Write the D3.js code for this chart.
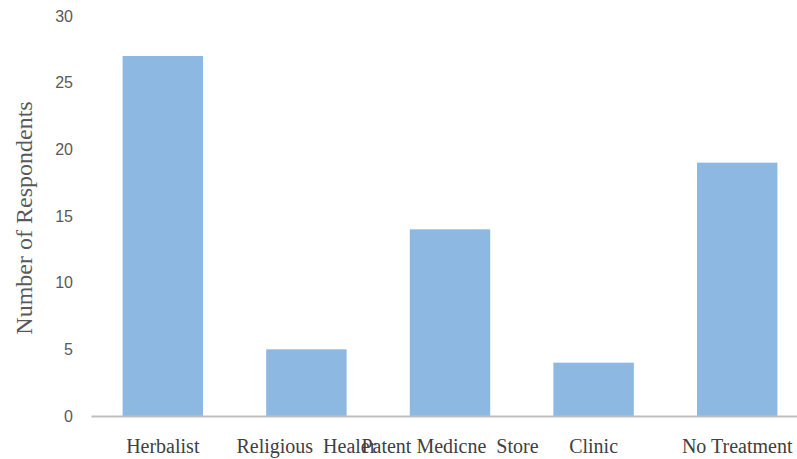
<!DOCTYPE html>
<html>
<head>
<meta charset="utf-8">
<script src="https://cdn.jsdelivr.net/npm/d3@7"></script>
<style>
  body { margin: 0; background: #fff; }
  text { white-space: pre; }
</style>
</head>
<body>
<svg id="chart"></svg>
<script>
// Chart data
var categories = ["Herbalist", "Religious  Healer", "Patent Medicne  Store", "Clinic", "No Treatment"];
var respondents = [27, 5, 14, 4, 19];
var yTicks = [0, 5, 10, 15, 20, 25, 30];

var width = 797, height = 459;

var svg = d3.select("#chart")
    .attr("width", width)
    .attr("height", height);

var xScale = d3.scaleBand()
    .domain(categories)
    .range([91, 809])
    .paddingInner(0.44)
    .paddingOuter(0.22);

var yScale = d3.scaleLinear()
    .domain([0, 30])
    .range([416, 16]);

// y axis tick labels only
svg.append("g")
    .attr("transform", "translate(73,0)")
    .call(d3.axisLeft(yScale).tickValues(yTicks).tickSize(0).tickPadding(0))
    .call(g => g.select(".domain").remove())
    .call(g => g.selectAll("text")
        .attr("fill", "#595959")
        .attr("font-family", "Liberation Sans, Arial, sans-serif")
        .attr("font-size", 16));

// bars
svg.selectAll(".bar")
    .data(categories)
    .enter().append("rect")
    .attr("class", "bar")
    .attr("x", d => xScale(d))
    .attr("width", xScale.bandwidth())
    .attr("y", (d, i) => yScale(respondents[i]))
    .attr("height", (d, i) => yScale(0) - yScale(respondents[i]))
    .attr("fill", "#8cb8e2");

// x axis line and labels
svg.append("g")
    .attr("transform", "translate(0," + yScale(0) + ")")
    .call(d3.axisBottom(xScale).tickSize(0).tickPadding(23))
    .call(g => g.select(".domain").attr("stroke", "#bfbfbf").attr("stroke-width", 2))
    .call(g => g.selectAll("text")
        .attr("fill", "#404040")
        .attr("font-family", "Liberation Serif, Times New Roman, serif")
        .attr("font-size", 20));

// y axis title
svg.append("text")
    .attr("transform", "translate(32,218) rotate(-90)")
    .attr("text-anchor", "middle")
    .attr("fill", "#595959")
    .attr("font-family", "Liberation Serif, Times New Roman, serif")
    .attr("font-size", 24)
    .text("Number of Respondents");
</script>
</body>
</html>
